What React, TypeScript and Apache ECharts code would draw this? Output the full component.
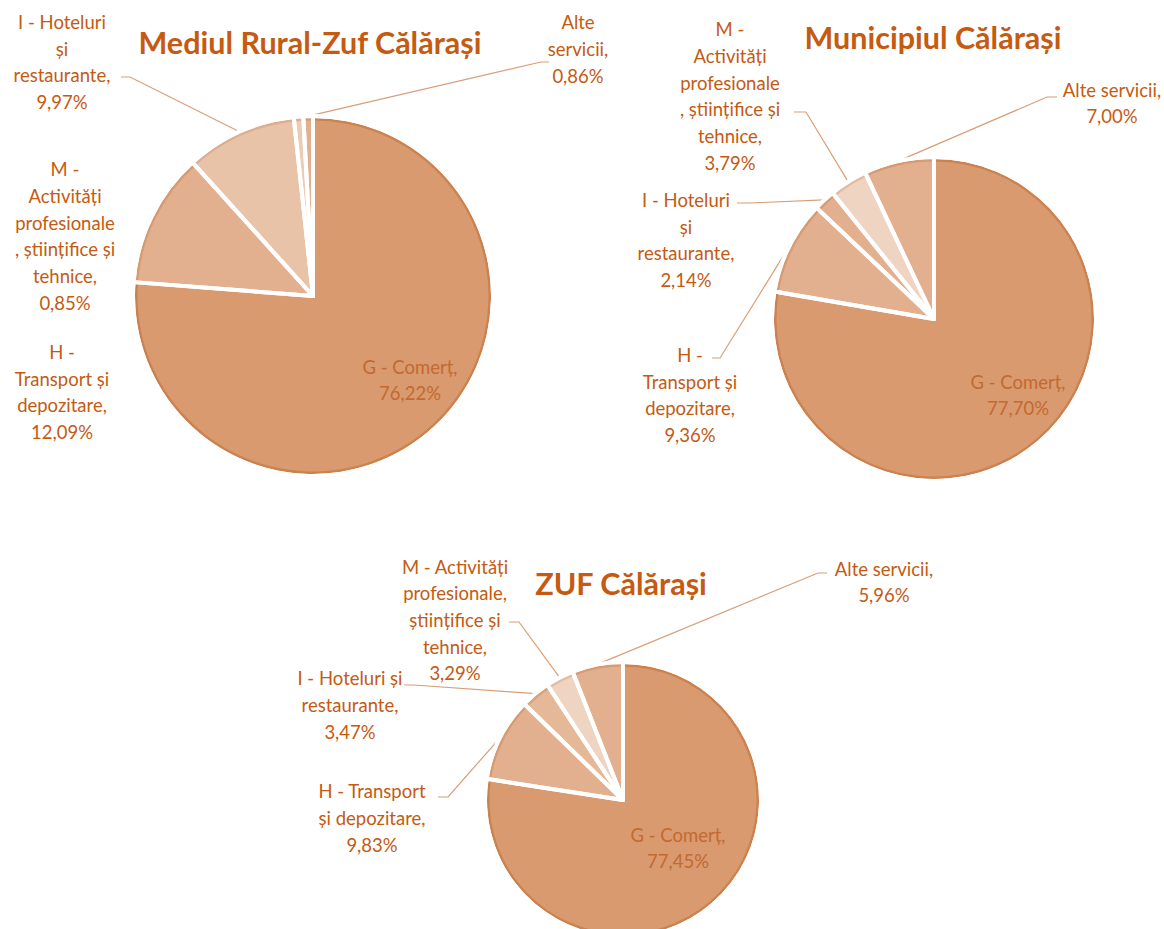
import React, { useEffect, useRef } from "react";
import * as echarts from "echarts";

// ---------- data ----------
const categories = [
  "G - Comerț",
  "H - Transport și depozitare",
  "I - Hoteluri și restaurante",
  "M - Activități profesionale, științifice și tehnice",
  "Alte servicii",
];

const ruralValues = [76.22, 12.09, 9.97, 0.85, 0.86];
const municipiuValues = [77.7, 9.36, 2.14, 3.79, 7.0];
const zufValues = [77.45, 9.83, 3.47, 3.29, 5.96];

const ruralTitle = "Mediul Rural-Zuf Călărași";
const municipiuTitle = "Municipiul Călărași";
const zufTitle = "ZUF Călărași";

// label texts (as wrapped in the picture)
const ruralLabels = [
  "G - Comerț,",
  "H -\nTransport și\ndepozitare,",
  "I - Hoteluri\nși\nrestaurante,",
  "M -\nActivități\nprofesionale\n, științifice și\ntehnice,",
  "Alte\nservicii,",
];
const municipiuLabels = [
  "G - Comerț,",
  "H -\nTransport și\ndepozitare,",
  "I - Hoteluri\nși\nrestaurante,",
  "M -\nActivități\nprofesionale\n, științifice și\ntehnice,",
  "Alte servicii,",
];
const zufLabels = [
  "G - Comerț,",
  "H - Transport\nși depozitare,",
  "I - Hoteluri și\nrestaurante,",
  "M - Activități\nprofesionale,\nștiințifice și\ntehnice,",
  "Alte servicii,",
];

// ---------- styles / layout ----------
const FONT = "Lato, 'Open Sans', sans-serif";
const TEXT = "#C55A11";
const INNER_TEXT = "#C4692F";
const LINE = "#D99E77";

const fmt = (v: number) => v.toFixed(2).replace(".", ",") + "%";

type Pt = [number, number];

function makePie(
  values: number[],
  labels: string[],
  colors: string[],
  rims: string[],
  center: Pt,
  r: number,
  labelPos: Pt[],
  lineEnds: (Pt[] | null)[]
) {
  const base = {
    type: "pie",
    center,
    startAngle: 90,
    clockwise: true,
    silent: true,
    avoidLabelOverlap: false,
    animation: false,
  };
  return [
    {
      ...base,
      z: 1,
      radius: r,
      label: { show: false },
      labelLine: { show: false },
      data: values.map((v, i) => ({ value: v, name: categories[i], itemStyle: { color: rims[i] } })),
    },
    {
      ...base,
      z: 2,
      radius: r - 2.5,
      label: { show: false },
      labelLine: { show: false },
      data: values.map((v, i) => ({ value: v, name: categories[i], itemStyle: { color: colors[i] } })),
    },
    {
      ...base,
      z: 3,
      radius: r + 2,
      itemStyle: { color: "rgba(0,0,0,0)", borderColor: "#ffffff", borderWidth: 4 },
      label: {
        show: true,
        position: "outside",
        formatter: (p: any) => labels[p.dataIndex] + "\n" + fmt(p.value),
        color: TEXT,
        fontFamily: FONT,
        fontSize: 18.5,
        lineHeight: 26.7,
        align: "center",
      },
      labelLine: { show: true, length: 10, length2: 8, lineStyle: { color: LINE, width: 1.2 } },
      labelLayout: (params: any) => {
        const p = labelPos[params.dataIndex];
        const out: any = { x: p[0], y: p[1], align: "center", verticalAlign: "middle" };
        const ends = lineEnds[params.dataIndex];
        if (ends && params.labelLinePoints && params.labelLinePoints[0]) {
          out.labelLinePoints = [params.labelLinePoints[0], ends[0], ends[1]];
        }
        return out;
      },
      data: values.map((v, i) => ({
        value: v,
        name: categories[i],
        label: i === 0 ? { color: INNER_TEXT } : {},
        labelLine: { show: lineEnds[i] != null },
      })),
    },
  ];
}

export default function App() {
  const ref = useRef<HTMLDivElement>(null);
  useEffect(() => {
    if (!ref.current) return;
    const chart = echarts.init(ref.current, null, { renderer: "svg" });
    const titleStyle = (text: string) => ({
      text,
      fill: TEXT,
      fontFamily: FONT,
      fontWeight: "bold",
      fontSize: 30.5,
      align: "center",
      verticalAlign: "middle",
    });
    const series = [
      ...makePie(
        ruralValues,
        ruralLabels,
        ["#D99A6F", "#E2B08E", "#E8C3A8", "#EBCBB4", "#E2B08E"],
        ["#CC824F", "#D79B73", "#DDAE8E", "#DDAE8E", "#D79B73"],
        [313, 296],
        178,
        [
          [410, 380],
          [62, 392],
          [62, 62],
          [65, 236],
          [578, 49],
        ],
        [
          null,
          null,
          [
            [130, 77],
            [121, 77],
          ],
          null,
          [
            [541, 62],
            [549, 62],
          ],
        ]
      ),
      ...makePie(
        municipiuValues,
        municipiuLabels,
        ["#D99A6F", "#E2B08E", "#E2B08E", "#EFD4C1", "#E2B08E"],
        ["#CC824F", "#D79B73", "#D79B73", "#E2BCA2", "#D79B73"],
        [934, 319],
        160,
        [
          [1018, 395],
          [690, 395],
          [686, 240],
          [730, 96],
          [1112, 103],
        ],
        [
          null,
          [
            [720, 358],
            [712, 358],
          ],
          [
            [750, 203],
            [737, 203],
          ],
          [
            [806, 112],
            [794, 112],
          ],
          [
            [1047, 97],
            [1057, 97],
          ],
        ]
      ),
      ...makePie(
        zufValues,
        zufLabels,
        ["#D99A6F", "#E2B08E", "#E5B898", "#EFD4C1", "#E2B08E"],
        ["#CC824F", "#D79B73", "#D9A27E", "#E2BCA2", "#D79B73"],
        [623, 800],
        136,
        [
          [678, 848],
          [372, 818],
          [350, 705],
          [455, 620],
          [884, 582],
        ],
        [
          null,
          [
            [448, 797],
            [438, 797],
          ],
          [
            [414, 685],
            [404, 685],
          ],
          [
            [519, 622],
            [509, 622],
          ],
          [
            [818, 573],
            [827, 573],
          ],
        ]
      ),
    ];
    chart.setOption({
      animation: false,
      backgroundColor: "#ffffff",
      graphic: [
        { type: "text", x: 310, y: 42, style: titleStyle(ruralTitle) },
        { type: "text", x: 933, y: 37, style: titleStyle(municipiuTitle) },
        { type: "text", x: 621, y: 583, style: titleStyle(zufTitle) },
      ],
      series,
    });
    return () => chart.dispose();
  }, []);
  return (
    <div
      ref={ref}
      style={{ position: "absolute", left: 0, top: 0, width: 1164, height: 929 }}
    />
  );
}
